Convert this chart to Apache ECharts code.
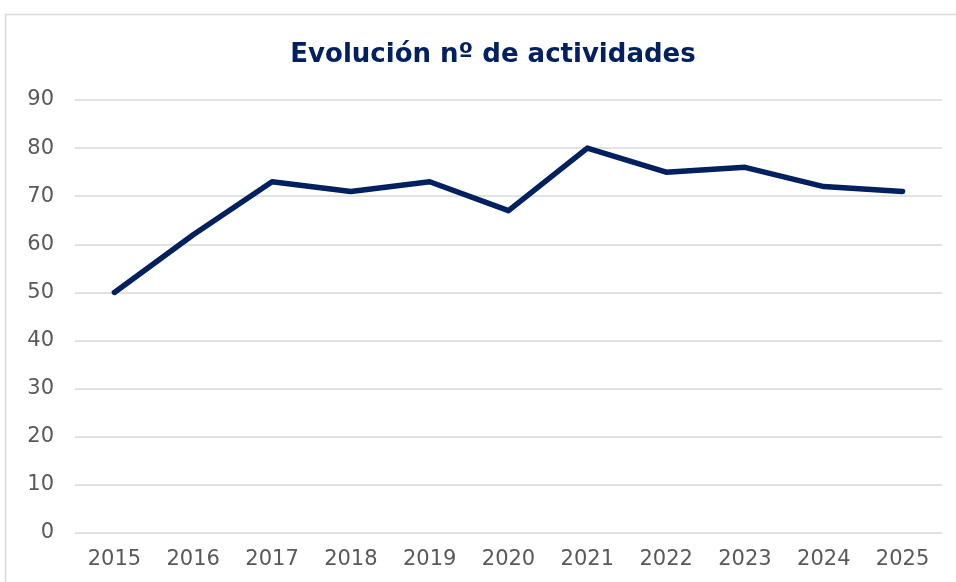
<!DOCTYPE html>
<html><head><meta charset="utf-8">
<script src="https://cdn.jsdelivr.net/npm/echarts@6/dist/echarts.min.js"></script>
<style>html,body{margin:0;padding:0;background:#fff}#c{width:956px;height:582px}</style>
</head><body><div id="c"></div>
<script>
const categories = ['2015','2016','2017','2018','2019','2020','2021','2022','2023','2024','2025'];
const actividades = [50, 62, 73, 71, 73, 67, 80, 75, 76, 72, 71];
const titleText = 'Evolución nº de actividades';

const chart = echarts.init(document.getElementById('c'));
chart.setOption({
  backgroundColor: '#fff',
  animation: false,
  graphic: [{
    type: 'rect', shape: {x: 5.5, y: 14.5, width: 1000, height: 700},
    style: {fill: 'none', stroke: '#d9d9d9', lineWidth: 1.5}, silent: true
  }],
  title: {
    text: titleText, left: 488, top: 37, textAlign: 'center',
    textStyle: {fontFamily: 'DejaVu Sans', fontWeight: 'bold', fontSize: 26, color: '#002060'}
  },
  grid: {left: 75, right: 14, top: 100, bottom: 49, containLabel: false},
  xAxis: {
    type: 'category', data: categories, boundaryGap: true,
    axisLine: {show: false}, axisTick: {show: false},
    axisLabel: {fontFamily: 'DejaVu Sans', fontSize: 21, color: '#595959', margin: 16}
  },
  yAxis: {
    type: 'value', min: 0, max: 90, interval: 10,
    axisLine: {show: false}, axisTick: {show: false},
    axisLabel: {fontFamily: 'DejaVu Sans', fontSize: 21, color: '#595959', margin: 21},
    splitLine: {lineStyle: {color: '#d9d9d9', width: 1.5}}
  },
  series: [{
    type: 'line', data: actividades, symbol: 'none',
    lineStyle: {color: '#002060', width: 5.5, cap: 'round', join: 'round'}
  }]
});
</script></body></html>
